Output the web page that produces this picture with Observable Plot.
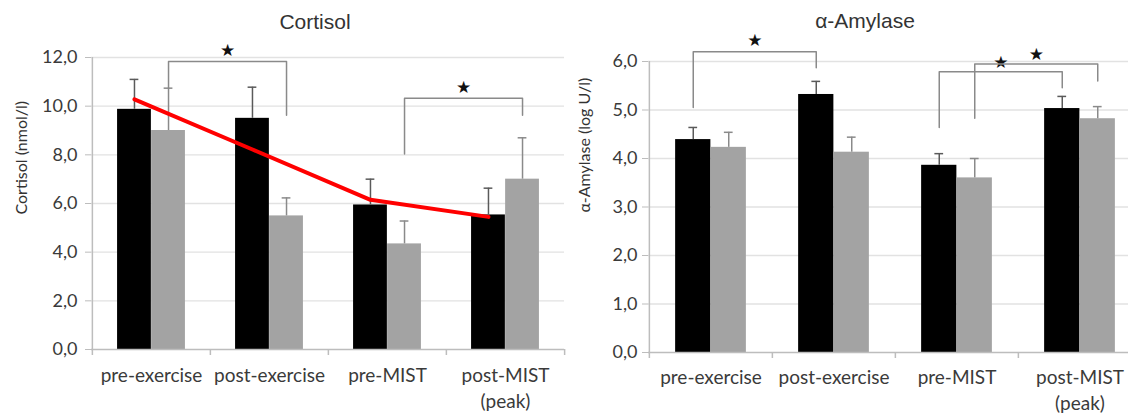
<!DOCTYPE html>
<html><head><meta charset="utf-8">
<script src="https://cdn.jsdelivr.net/npm/d3@7"></script>
<script src="https://cdn.jsdelivr.net/npm/@observablehq/plot@0.6"></script>
<style>
html,body{margin:0;padding:0;background:#fff;overflow:hidden;}
#wrap{position:relative;width:1128px;height:415px;overflow:hidden;}
#left,#right{position:absolute;top:0;}
#left{left:0px;width:570px;}
#right{left:565px;width:586px;}
#wrap svg{max-width:none !important;}
</style></head><body>
<div id="wrap"><div id="left"></div><div id="right"></div></div>
<script>
// ---- data ----
const categories = ["pre-exercise", "post-exercise", "pre-MIST", "post-MIST (peak)"];
const categoryLabels = ["pre-exercise", "post-exercise", "pre-MIST", "post-MIST\n(peak)"];

const cortisolBlack = [9.87, 9.5, 5.94, 5.53];
const cortisolBlackErr = [11.1, 10.78, 7.0, 6.63];
const cortisolGray = [9.0, 5.49, 4.34, 7.0];
const cortisolGrayErr = [10.74, 6.23, 5.28, 8.7];
const cortisolTrend = [10.28, 8.22, 6.15, 5.45];
const cortisolTicks = [0, 2, 4, 6, 8, 10, 12];
// brackets: from category a to b, series, left leg bottom, top, right leg bottom, star level
const cortisolBrackets = [
  {a: 0, b: 1, series: "gray", low1: 10.75, top: 11.84, low2: 9.63, star: 12.3},
  {a: 2, b: 3, series: "gray", low1: 8.03, top: 10.33, low2: 9.63, star: 10.76}
];

const amylaseBlack = [4.39, 5.32, 3.86, 5.03];
const amylaseBlackErr = [4.64, 5.59, 4.1, 5.28];
const amylaseGray = [4.23, 4.13, 3.6, 4.82];
const amylaseGrayErr = [4.54, 4.44, 4.0, 5.07];
const amylaseTicks = [0, 1, 2, 3, 4, 5, 6];
const amylaseBrackets = [
  {a: 0, b: 1, series: "black", low1: 5.05, top: 6.2, low2: 5.87, star: 6.43},
  {a: 2, b: 3, series: "black", low1: 4.64, top: 5.79, low2: 5.46, star: 5.98},
  {a: 2, b: 3, series: "gray", low1: 4.83, top: 5.95, low2: 5.6, star: 6.14}
];

// ---- drawing ----
const fmt = d => d.toFixed(1).replace(".", ",");

function panel(o) {
  const bw = (o.width - o.ML - o.MR) / categories.length;
  const barW = bw * 0.288;
  const off = {black: -barW / 2, gray: barW / 2};
  const cap = 4.5;
  const rows = categories.map((c, i) => ({
    c, black: o.black[i], blackErr: o.blackErr[i], gray: o.gray[i], grayErr: o.grayErr[i]
  }));
  const frameMidY = (o.MT + (415 - o.MB)) / 2;
  const marks = [
    Plot.ruleY(o.ticks.filter(d => d > 0), {stroke: "#e2e2e2", strokeWidth: 1.3}),
    Plot.barY(rows, {x: "c", y: "black", fill: "#000000", insetLeft: bw / 2 - barW, insetRight: bw / 2}),
    Plot.barY(rows, {x: "c", y: "gray", fill: "#a3a3a3", insetLeft: bw / 2, insetRight: bw / 2 - barW}),
    Plot.ruleX(rows, {x: "c", y1: "black", y2: "blackErr", dx: off.black, stroke: "#5a5a5a", strokeWidth: 1.5}),
    Plot.tickY(rows, {x: "c", y: "blackErr", insetLeft: bw / 2 + off.black - cap, insetRight: bw / 2 - off.black - cap, stroke: "#5a5a5a", strokeWidth: 1.5}),
    Plot.ruleX(rows, {x: "c", y1: "gray", y2: "grayErr", dx: off.gray, stroke: "#8a8a8a", strokeWidth: 1.5}),
    Plot.tickY(rows, {x: "c", y: "grayErr", insetLeft: bw / 2 + off.gray - cap, insetRight: bw / 2 - off.gray - cap, stroke: "#8a8a8a", strokeWidth: 1.5}),
    // axes lines
    Plot.ruleY([0], {stroke: "#bdbdbd", strokeWidth: 1.5}),
    Plot.ruleX([categories[0]], {x: d => d, dx: -bw / 2, y1: 0, y2: o.yMax, stroke: "#bdbdbd", strokeWidth: 1.5}),
    Plot.ruleX(categories, {x: d => d, dx: -bw / 2, y1: 0, y2: 0, insetBottom: -6, stroke: "#bdbdbd", strokeWidth: 1.5}),
    Plot.ruleX([categories[categories.length - 1]], {x: d => d, dx: bw / 2, y1: 0, y2: 0, insetBottom: -6, stroke: "#bdbdbd", strokeWidth: 1.5}),
    Plot.axisY({ticks: o.ticks, tickFormat: fmt, tickSize: 6, tickPadding: o.tickPadding, stroke: "#bdbdbd", color: "#3a3a3a", fontSize: 18, label: null}),
    Plot.text(categories, {x: d => d, text: (d, i) => categoryLabels[i], frameAnchor: "bottom", dy: o.catDy, lineAnchor: "top", lineHeight: 1.33, fontSize: 19, fill: "#3a3a3a"}),
    Plot.text([o.title], {frameAnchor: "top", dx: o.titleDx, dy: o.titleY - o.MT, lineAnchor: "middle", fontSize: 21, fontFamily: "Liberation Sans, Arial, sans-serif", fill: "#333333"}),
    Plot.text([o.yLabel], {frameAnchor: "left", dx: o.yLabelX - o.ML, dy: o.yLabelY - frameMidY, rotate: -90, lineAnchor: "middle", fontSize: 16, fill: "#333333"})
  ];
  if (o.trend) {
    marks.push(Plot.lineY(o.trend, {x: (d, i) => categories[i], y: d => d, dx: off.black, stroke: "#ff0000", strokeWidth: 4}));
  }
  for (const b of o.brackets) {
    const pts = [
      {c: categories[b.a], y: b.low1},
      {c: categories[b.a], y: b.top},
      {c: categories[b.b], y: b.top},
      {c: categories[b.b], y: b.low2}
    ];
    marks.push(Plot.line(pts, {x: "c", y: "y", dx: off[b.series], stroke: "#8a8a8a", strokeWidth: 1.5}));
    marks.push(Plot.text([b], {x: () => categories[b.a], y: "star", text: () => "★", dx: off[b.series] + (b.b - b.a) * bw / 2, fontSize: 17, fontFamily: "DejaVu Sans", fill: "#111"}));
  }
  return Plot.plot({
    width: o.width, height: 415,
    marginLeft: o.ML, marginRight: o.MR, marginTop: o.MT, marginBottom: o.MB,
    x: {type: "band", domain: categories, padding: 0, axis: null},
    y: {domain: [0, o.yMax]},
    style: {fontFamily: "Lato, sans-serif", background: "transparent", overflow: "visible", maxWidth: "none"},
    marks
  });
}

document.getElementById("left").append(panel({
  width: 570, ML: 91, MR: 6, MT: 57, MB: 66, yMax: 12, ticks: cortisolTicks, tickPadding: 8,
  black: cortisolBlack, blackErr: cortisolBlackErr, gray: cortisolGray, grayErr: cortisolGrayErr,
  trend: cortisolTrend, brackets: cortisolBrackets,
  title: "Cortisol", titleDx: -13, titleY: 22, yLabel: "Cortisol (nmol/l)", yLabelX: 21, yLabelY: 214, catDy: 15
}));
document.getElementById("right").append(panel({
  width: 586, ML: 83, MR: 10, MT: 61, MB: 63, yMax: 6, ticks: amylaseTicks, tickPadding: 5,
  black: amylaseBlack, blackErr: amylaseBlackErr, gray: amylaseGray, grayErr: amylaseGrayErr,
  trend: null, brackets: amylaseBrackets,
  title: "α-Amylase", titleDx: -30, titleY: 21, yLabel: "α-Amylase (log U/l)", yLabelX: 19, yLabelY: 212, catDy: 14
}));
</script>
</body></html>
